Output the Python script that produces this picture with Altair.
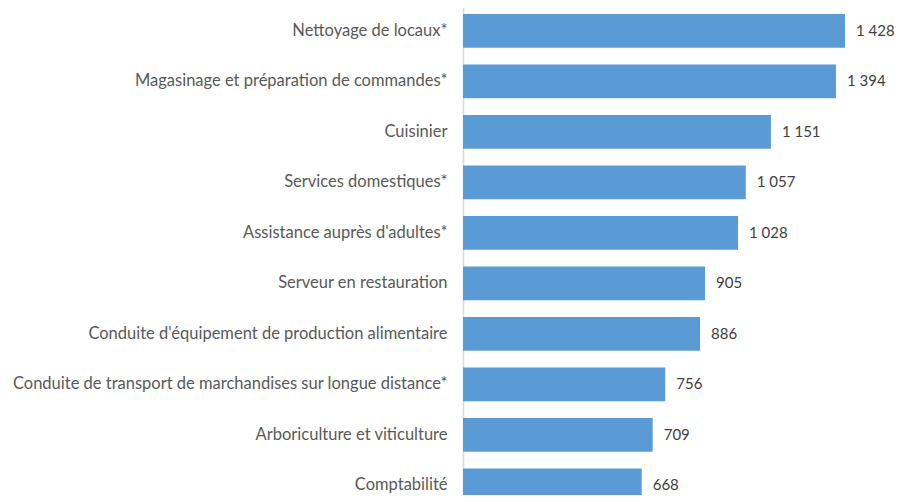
import altair as alt
import pandas as pd

categories = [
    "Nettoyage de locaux*",
    "Magasinage et préparation de commandes*",
    "Cuisinier",
    "Services domestiques*",
    "Assistance auprès d'adultes*",
    "Serveur en restauration",
    "Conduite d'équipement de production alimentaire",
    "Conduite de transport de marchandises sur longue distance*",
    "Arboriculture et viticulture",
    "Comptabilité",
]
values = [1428, 1394, 1151, 1057, 1028, 905, 886, 756, 709, 668]

df = pd.DataFrame({
    "metier": categories,
    "valeur": values,
    "label": [f"{v:,}".replace(",", " ") for v in values],
})

W = 431
H = 487
FONT = "Lato"

y_scale = alt.Scale(domain=categories, range=[-2.3, 502.7], paddingInner=0.33, paddingOuter=0.165)
x_scale = alt.Scale(domain=[0, 1611], nice=False, zero=True)

base = alt.Chart(df).encode(
    y=alt.Y("metier:N", scale=y_scale, sort=None,
            axis=alt.Axis(title=None, ticks=False, domain=True, domainColor="#d9d9d9",
                          domainWidth=1.5, labelColor="#595959", labelFontSize=16.5,
                          labelFont=FONT, labelPadding=16, labelLimit=600, grid=False)),
    x=alt.X("valeur:Q", scale=x_scale, axis=None),
)

bars = base.mark_bar(color="#5B9BD5", clip=True)
text = base.mark_text(align="left", baseline="middle", dx=11, fontSize=15, font=FONT,
                      color="#404040").encode(text="label:N")

chart = (bars + text).properties(
    width=W, height=H,
    padding={"left": 455, "top": 0, "right": 0, "bottom": 0},
    autosize=alt.AutoSizeParams(type="none"),
).configure_view(stroke=None)

chart.save("out.html", embed_options={"renderer": "svg", "actions": False})
